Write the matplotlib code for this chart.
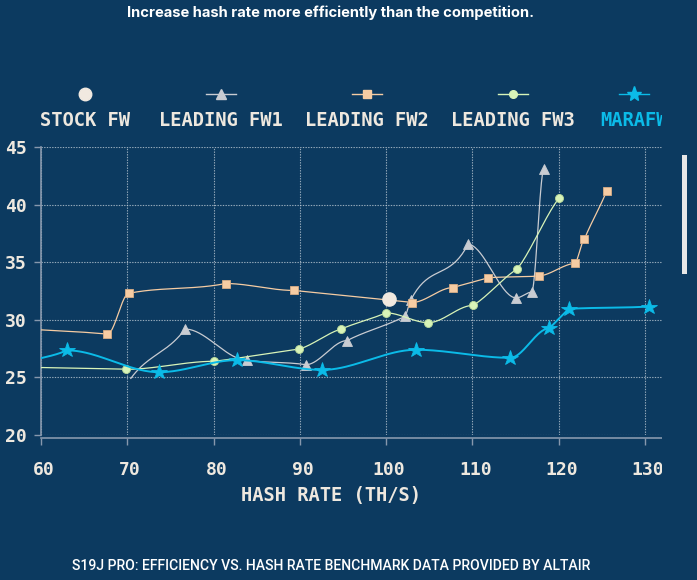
import numpy as np
import matplotlib
matplotlib.use("Agg")
import matplotlib.pyplot as plt
from matplotlib import font_manager
from matplotlib.lines import Line2D
from matplotlib.patches import Rectangle
from matplotlib.transforms import ScaledTranslation

# efficiency (J/TH) vs hash rate (TH/s)
stock_x = [100.4]
stock_y = [31.8]

fw1_x = [70.4, 76.7, 83.9, 90.7, 95.5, 102.2, 102.9, 109.5, 115.1, 116.9, 118.3]
fw1_y = [24.9, 29.2, 26.5, 26.1, 28.2, 30.3, 31.75, 36.55, 31.9, 32.4, 43.1]

fw2_x = [55.0, 67.7, 70.2, 81.4, 89.3, 103.0, 107.8, 111.8, 117.7, 121.9, 123.0, 125.6]
fw2_y = [29.4, 28.75, 32.3, 33.15, 32.55, 31.5, 32.8, 33.65, 33.8, 34.9, 37.0, 41.2]

fw3_x = [55.0, 69.8, 80.1, 89.9, 94.8, 100.0, 104.9, 110.1, 115.2, 120.1]
fw3_y = [25.95, 25.7, 26.4, 27.45, 29.2, 30.6, 29.75, 31.25, 34.4, 40.6]

mara_x = [57.0, 63.0, 73.7, 82.7, 92.6, 103.5, 114.4, 118.9, 121.2, 130.5]
mara_y = [26.0, 27.35, 25.45, 26.5, 25.65, 27.4, 26.7, 29.25, 30.95, 31.15]

legend_labels = ["STOCK FW", "LEADING FW1", "LEADING FW2", "LEADING FW3", "MARAFW"]
x_ticks = [60, 70, 80, 90, 100, 110, 120, 130]
y_ticks = [20, 25, 30, 35, 40, 45]

BG = "#0c3a60"
TEXT = "#eee8df"
C_STOCK = "#f1e9e0"
C_FW1 = "#c9ccd2"
C_FW2 = "#f6cca3"
C_FW3 = "#d8f4b8"
C_MARA = "#0bbbe8"

W, H = 697, 580


def _installed(name):
    return any(f.name == name for f in font_manager.fontManager.ttflist)


MONO = "DejaVu Sans Mono"
TITLE_FONT = "Inter" if _installed("Inter") else "DejaVu Sans"
CAPTION_FONT = "Roboto" if _installed("Roboto") else "DejaVu Sans"


def monotone_curve(x, y, n=40):
    """Monotone cubic (d3 curveMonotoneX style) through the points."""
    x = np.asarray(x, float)
    y = np.asarray(y, float)
    h = np.diff(x)
    s = np.diff(y) / h
    m = np.zeros_like(x)
    for i in range(1, len(x) - 1):
        s0, s1 = s[i - 1], s[i]
        p = (s0 * h[i] + s1 * h[i - 1]) / (h[i - 1] + h[i])
        m[i] = (np.sign(s0) + np.sign(s1)) * min(abs(s0), abs(s1), 0.5 * abs(p))
    m[0] = (3 * s[0] - m[1]) / 2 if len(x) > 2 else s[0]
    m[-1] = (3 * s[-1] - m[-2]) / 2 if len(x) > 2 else s[-1]
    xs, ys = [], []
    for i in range(len(x) - 1):
        t = np.linspace(0, 1, n)
        h00 = 2 * t**3 - 3 * t**2 + 1
        h10 = t**3 - 2 * t**2 + t
        h01 = -2 * t**3 + 3 * t**2
        h11 = t**3 - t**2
        xs.append(x[i] + t * h[i])
        ys.append(h00 * y[i] + h10 * h[i] * m[i] + h01 * y[i + 1] + h11 * h[i] * m[i])
    return np.concatenate(xs), np.concatenate(ys)


fig = plt.figure(figsize=(W / 100, H / 100), dpi=100)
fig.patch.set_facecolor(BG)
ax = fig.add_axes([41 / W, 1 - 435 / H, 621 / W, 288 / H])
ax.set_facecolor(BG)

series = [
    (fw1_x, fw1_y, C_FW1, "^", 7.5, 0.9, C_FW1, list(range(1, len(fw1_x)))),
    (fw2_x, fw2_y, C_FW2, "s", 6.0, 0.9, "#d9ad86", list(range(1, len(fw2_x)))),
    (fw3_x, fw3_y, C_FW3, "o", 5.8, 0.9, "#b9d99a", list(range(1, len(fw3_x)))),
    (mara_x, mara_y, C_MARA, "*", 11.5, 1.4, C_MARA, list(range(1, len(mara_x)))),
]
for i, (xs, ys, color, marker, ms, lw, edge, shown) in enumerate(series):
    cx, cy = monotone_curve(xs, ys)
    ax.plot(cx, cy, color=color, lw=lw, zorder=3 + i, solid_capstyle="round")
    ax.plot(np.asarray(xs)[shown], np.asarray(ys)[shown], ls="none", marker=marker,
            ms=ms, color=color, mec=edge, mew=0.6, zorder=3 + i)

ax.plot(stock_x, stock_y, ls="none", marker="o", ms=9.5, color=C_STOCK,
        mec=C_STOCK, zorder=8)

ax.set_xlim(60, 132)
ax.set_ylim(20, 45)
ax.set_xticks(x_ticks)
ax.set_yticks(y_ticks)
ax.grid(True, color="#c8d2dc", alpha=0.75, lw=0.8, ls=(0, (1.2, 1.2)))
ax.set_axisbelow(True)
for side in ("top", "right"):
    ax.spines[side].set_visible(False)
for side in ("left", "bottom"):
    ax.spines[side].set_color("#8798ad")
    ax.spines[side].set_linewidth(1.2)
ax.spines["bottom"].set_position(("outward", 2))
ax.tick_params(axis="x", colors="#8798ad", length=5, width=1.0,
               labelcolor=TEXT, labelsize=13, pad=12)
ax.tick_params(axis="y", colors="#8798ad", length=5, width=1.0,
               labelcolor=TEXT, labelsize=13, pad=5)
nudge = ScaledTranslation(3 / 100, 0, fig.dpi_scale_trans)
for lab in ax.get_xticklabels():
    lab.set_transform(lab.get_transform() + nudge)
for lab in ax.get_xticklabels() + ax.get_yticklabels():
    lab.set_fontfamily(MONO)
    lab.set_fontweight("bold")

cx = 331 / W
fig.text(cx, 1 - 496 / H, "HASH RATE (TH/S)", ha="center", va="center",
         color=TEXT, fontsize=13.5, family=MONO, fontweight="bold")
title = fig.text(cx, 1 - 13 / H, "Increase hash rate more efficiently than the competition.",
                 ha="center", va="center", color="#ffffff", fontsize=10,
                 family=TITLE_FONT, fontweight="bold")
caption = fig.text(cx, 1 - 566 / H,
                   "S19J PRO: EFFICIENCY VS. HASH RATE BENCHMARK DATA PROVIDED BY ALTAIR",
                   ha="center", va="center", color="#ffffff", fontsize=11,
                   family=CAPTION_FONT, fontweight="medium")

# legend: marker above each label
leg_x = [85, 221, 367, 513, 634]
leg_style = [
    (C_STOCK, "o", 9.0, False),
    (C_FW1, "^", 7.0, True),
    (C_FW2, "s", 6.0, True),
    (C_FW3, "o", 5.5, True),
    (C_MARA, "*", 11, True),
]
for px, label, (color, marker, ms, with_line) in zip(leg_x, legend_labels, leg_style):
    fx = px / W
    fy = 1 - 94 / H
    if with_line:
        fig.add_artist(Line2D([fx - 15 / W, fx + 15 / W], [fy, fy], color=color, lw=1.0,
                              transform=fig.transFigure))
    fig.add_artist(Line2D([fx], [fy], marker=marker, ms=ms, color=color, mec=color,
                          ls="none", transform=fig.transFigure))
    fig.text(fx, 1 - 120 / H, label, ha="center", va="center", fontsize=13.5,
             family=MONO, fontweight="bold",
             color=C_MARA if label == "MARAFW" else TEXT)

# fit title and caption widths to the reference
fig.canvas.draw()
renderer = fig.canvas.get_renderer()
for txt, target in ((title, 408), (caption, 519)):
    width = txt.get_window_extent(renderer).width
    txt.set_fontsize(txt.get_fontsize() * target / width)

# the original chart is clipped on the right, with a scrollbar next to it
fig.add_artist(Rectangle((662 / W, 1 - 490 / H), 35 / W, 430 / H, facecolor=BG,
                         edgecolor="none", transform=fig.transFigure, zorder=10))
fig.add_artist(Rectangle((682 / W, 1 - 274 / H), 5 / W, 119 / H, facecolor="#e6e6e6",
                         edgecolor="none", transform=fig.transFigure, zorder=11))

fig.savefig("out.png", dpi=100, facecolor=BG)
